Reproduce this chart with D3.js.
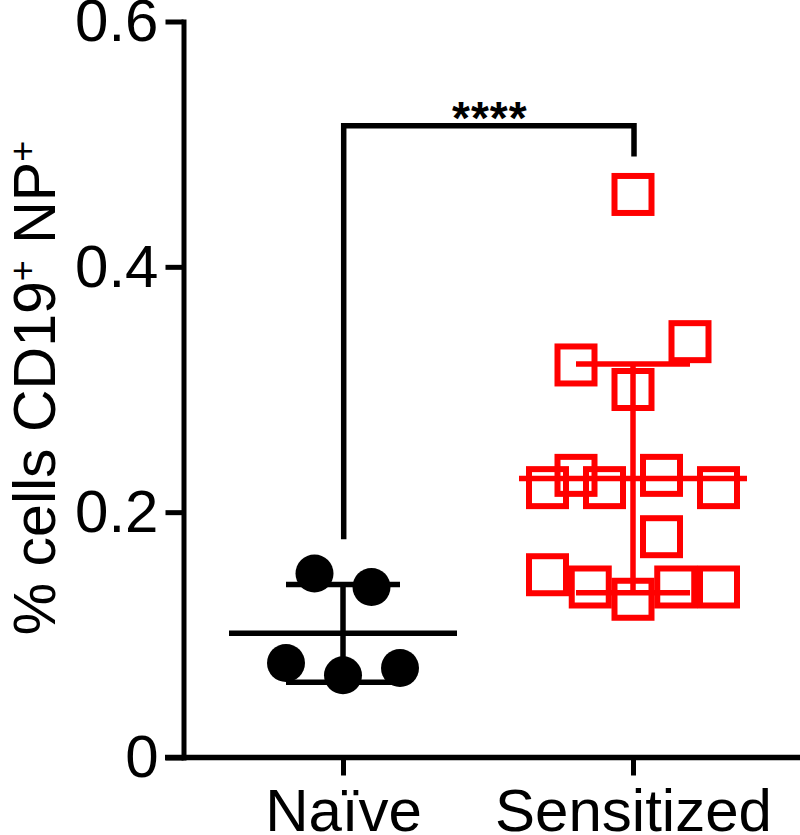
<!DOCTYPE html>
<html>
  <head>
    <meta http-equiv="Content-Type" content="text/html;charset=utf-8">
    <script src="https://d3js.org/d3.v7.min.js"></script>
    <style>
      body { margin: 0; background: #fff; }
      text { font-family: "Liberation Sans", Arial, sans-serif; }
    </style>
  </head>
  <body>
    <svg id="chart" width="800" height="835"></svg>
    <script type="text/javascript">

// data
var groups = ["Naïve", "Sensitized"];
var naive = [0.150, 0.139, 0.077, 0.067, 0.073];
var naiveSlot = [-1, 1, -2, 0, 2];
var sensitized = [0.459, 0.339, 0.320, 0.300, 0.230, 0.220, 0.220, 0.230, 0.220, 0.180,
                  0.149, 0.139, 0.129, 0.139, 0.139];
var sensSlot = [0, 2, -2, 0, -2, -3, -1, 1, 3, 1, -3, -1.5, 0, 1.5, 3];
var yTicks = [0, 0.2, 0.4, 0.6];
var bracket = [0.178, 0.515, 0.490]; // left leg end, top, right leg end
var sigLabel = "****";

var svg = d3.select("#chart");

var x = d3.scalePoint().domain(groups).range([198, 778]).padding(0.5);
var y = d3.scaleLinear().domain([0, 0.6]).range([757.5, 21.5]);
var slotW = 28.5;

// y axis
var yAxis = d3.axisLeft(y)
    .tickValues(yTicks)
    .tickFormat(function(d) { return d === 0 ? "0" : d.toFixed(1); })
    .tickSize(18).tickSizeOuter(0).tickPadding(7);
var gy = svg.append("g").attr("transform", "translate(183.5,0)").call(yAxis);
gy.select(".domain").attr("stroke-width", 5).attr("stroke-linecap", "square");
gy.selectAll(".tick line").attr("stroke-width", 5);
gy.selectAll(".tick text").attr("font-size", 60).attr("fill", "#000")
    .attr("font-family", "Liberation Sans, Arial, sans-serif");

// x axis
var xAxis = d3.axisBottom(x).tickSize(18).tickPadding(0).tickSizeOuter(0);
var gx = svg.append("g").attr("transform", "translate(0,757.5)").call(xAxis);
gx.select(".domain").remove();
gx.append("line").attr("x1", 165).attr("x2", 805)
    .attr("stroke", "#000").attr("stroke-width", 5.5);
gx.selectAll(".tick line").attr("stroke-width", 5);
gx.selectAll(".tick text").attr("font-size", 60).attr("fill", "#000")
    .attr("dy", null).attr("y", 73)
    .attr("font-family", "Liberation Sans, Arial, sans-serif");

// y label
var yl = svg.append("text")
    .attr("transform", "translate(55,388) rotate(-90)")
    .attr("text-anchor", "middle")
    .attr("font-size", 59)
    .attr("fill", "#000");
yl.append("tspan").text("% cells CD19");
yl.append("tspan").attr("font-size", 36).attr("dy", -20).text("+");
yl.append("tspan").attr("dy", 20).text(" NP");
yl.append("tspan").attr("font-size", 36).attr("dy", -20).text("+");

// mean +/- SD
function errBars(vals, cx, color) {
  var m = d3.mean(vals), sd = d3.deviation(vals);
  var g = svg.append("g").attr("stroke", color).attr("stroke-width", 5.5);
  g.append("line").attr("x1", cx - 114).attr("x2", cx + 114).attr("y1", y(m)).attr("y2", y(m));
  g.append("line").attr("x1", cx).attr("x2", cx).attr("y1", y(m + sd)).attr("y2", y(m - sd));
  [m + sd, m - sd].forEach(function(v) {
    g.append("line").attr("x1", cx - 57).attr("x2", cx + 57).attr("y1", y(v)).attr("y2", y(v));
  });
}

// naive circles
svg.append("g").selectAll("circle")
  .data(naive)
  .join("circle")
    .attr("cx", function(d, i) { return x(groups[0]) + naiveSlot[i] * slotW; })
    .attr("cy", function(d) { return y(d); })
    .attr("r", 19)
    .attr("fill", "#000");
errBars(naive, x(groups[0]), "#000");

// sensitized squares
var sq = 37;
svg.append("g").selectAll("rect")
  .data(sensitized)
  .join("rect")
    .attr("x", function(d, i) { return x(groups[1]) + sensSlot[i] * slotW - sq / 2; })
    .attr("y", function(d) { return y(d) - sq / 2; })
    .attr("width", sq).attr("height", sq)
    .attr("fill", "none")
    .attr("stroke", "#ff0000")
    .attr("stroke-width", 6);
errBars(sensitized, x(groups[1]), "#ff0000");

// significance bracket
var bx0 = x(groups[0]) + 0.7, bx1 = x(groups[1]) + 1;
var p = d3.path();
p.moveTo(bx0, y(bracket[0]));
p.lineTo(bx0, y(bracket[1]));
p.lineTo(bx1, y(bracket[1]));
p.lineTo(bx1, y(bracket[2]));
svg.append("path").attr("d", p.toString())
    .attr("fill", "none").attr("stroke", "#000").attr("stroke-width", 5.5)
    .attr("stroke-linejoin", "miter");
svg.append("text")
    .attr("x", (bx0 + bx1) / 2 + 1).attr("y", 134)
    .attr("text-anchor", "middle")
    .attr("font-size", 46)
    .attr("font-weight", "bold")
    .attr("letter-spacing", 1)
    .attr("fill", "#000")
    .text(sigLabel);

    </script>
  </body>
</html>
